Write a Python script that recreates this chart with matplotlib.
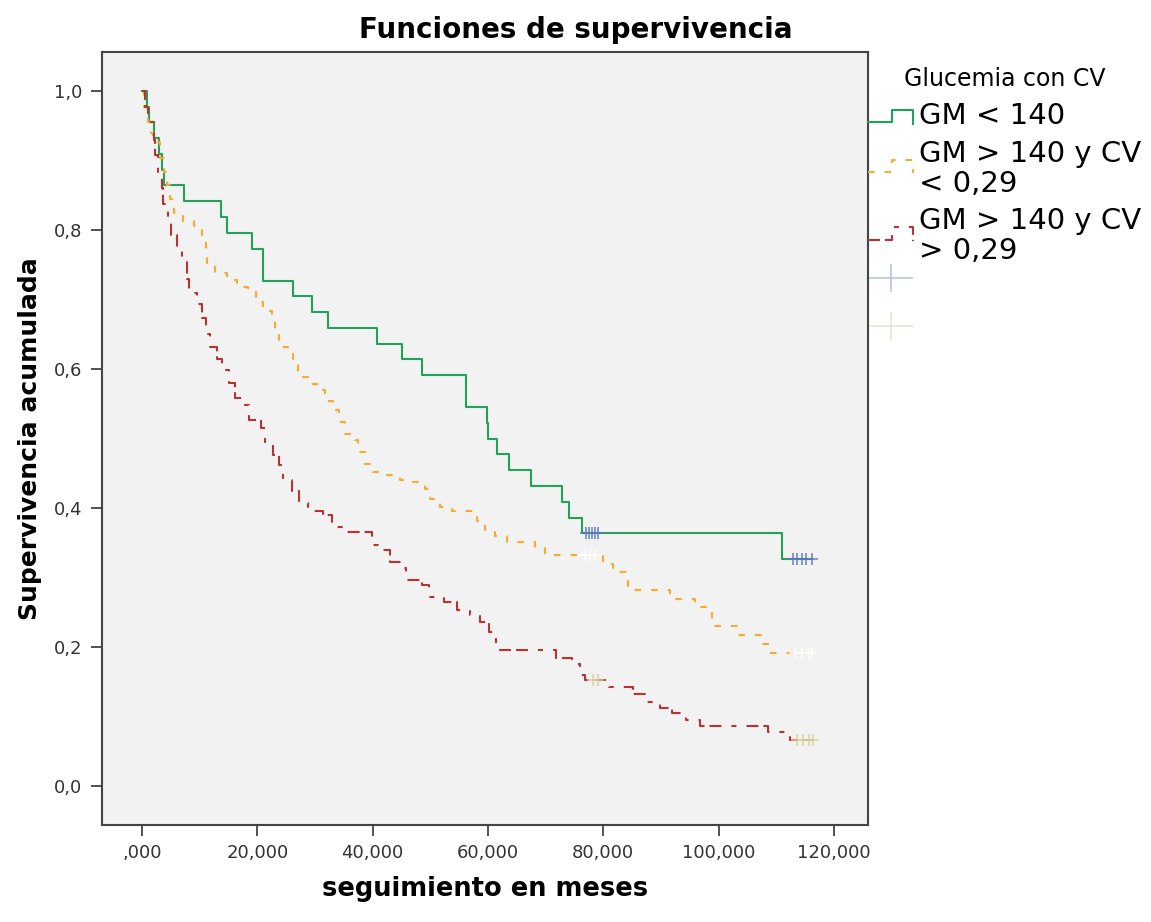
import numpy as np
import matplotlib
matplotlib.use("Agg")
import matplotlib.pyplot as plt
from matplotlib.lines import Line2D
from matplotlib.path import Path
from matplotlib.legend import Legend
from matplotlib.legend_handler import HandlerLine2D
from matplotlib.ticker import FuncFormatter, MultipleLocator

plt.rcParams["font.family"] = "DejaVu Sans"
plt.rcParams["lines.scale_dashes"] = False

# Kaplan-Meier steps: time in months -> survival after the event
GRP_LABELS = ["GM < 140", "GM > 140 y CV\n< 0,29", "GM > 140 y CV\n> 0,29"]

T_LOW = [0.919, 1.266, 2.081, 3.000, 3.468, 3.815, 7.283, 13.647, 14.687, 19.022, 21.034,
         26.132, 29.427, 32.305, 40.698, 45.032, 48.604, 56.131, 59.772, 59.946, 61.611,
         63.692, 67.453, 72.776, 74.096, 76.350, 110.920]
S_LOW = [0.977, 0.955, 0.932, 0.909, 0.886, 0.864, 0.841, 0.818, 0.795, 0.773, 0.727,
         0.705, 0.682, 0.659, 0.636, 0.614, 0.591, 0.545, 0.523, 0.500, 0.477,
         0.455, 0.432, 0.409, 0.386, 0.364, 0.327]
C_LOW = [77.0, 77.5, 78.0, 78.6, 79.1, 112.9, 113.6, 114.4, 115.1, 116.2]

T_CVLO = [0.347, 1.092, 1.509, 1.907, 3.121, 3.815, 4.283, 4.855, 5.549, 7.161, 9.017,
          10.352, 11.098, 11.323, 12.658, 14.687, 16.421, 18.432, 19.768, 21.033, 22.490,
          23.062, 23.808, 25.368, 26.236, 27.102, 28.836, 30.848, 31.715, 33.171, 34.212,
          35.200, 36.934, 37.507, 38.674, 40.107, 42.431, 44.737, 47.043, 49.071, 49.938,
          51.672, 53.701, 58.036, 59.475, 61.209, 63.238, 68.144, 69.878, 79.990, 81.620,
          83.874, 84.325, 91.547, 95.882, 97.910, 98.787, 103.122, 107.457, 108.775]
S_CVLO = [0.977, 0.956, 0.940, 0.926, 0.903, 0.884, 0.865, 0.845, 0.824, 0.813, 0.805,
          0.790, 0.771, 0.752, 0.738, 0.728, 0.718, 0.711, 0.697, 0.684, 0.673,
          0.654, 0.632, 0.623, 0.606, 0.588, 0.579, 0.570, 0.554, 0.541, 0.524,
          0.507, 0.498, 0.480, 0.464, 0.452, 0.447, 0.441, 0.438, 0.428, 0.413,
          0.402, 0.395, 0.381, 0.368, 0.360, 0.351, 0.342, 0.333, 0.320, 0.308,
          0.302, 0.282, 0.269, 0.257, 0.249, 0.230, 0.217, 0.204, 0.192]
C_CVLO = [76.8, 77.7, 78.6, 113.3, 114.4, 115.6, 116.2]

T_CVHI = [0.520, 1.092, 2.081, 2.254, 2.826, 3.416, 3.693, 4.560, 4.977, 6.017, 6.884,
          7.855, 8.202, 9.589, 10.352, 11.098, 11.791, 13.057, 13.820, 15.138, 16.126,
          17.860, 18.606, 20.583, 21.328, 22.664, 23.808, 24.397, 26.062, 27.276, 28.836,
          31.437, 32.894, 34.905, 39.830, 41.841, 43.003, 45.032, 45.778, 48.500, 49.766,
          52.367, 54.569, 56.875, 58.609, 60.170, 61.384, 71.736, 74.510, 75.949, 76.820,
          81.030, 85.192, 87.515, 89.821, 91.850, 94.330, 96.757, 108.600, 112.363]
S_CVHI = [0.977, 0.956, 0.929, 0.908, 0.884, 0.860, 0.838, 0.814, 0.793, 0.773, 0.754,
          0.730, 0.709, 0.694, 0.673, 0.651, 0.632, 0.615, 0.599, 0.580, 0.558,
          0.548, 0.527, 0.515, 0.495, 0.476, 0.462, 0.440, 0.425, 0.407, 0.395,
          0.390, 0.373, 0.365, 0.347, 0.340, 0.322, 0.313, 0.296, 0.289, 0.272,
          0.265, 0.254, 0.246, 0.236, 0.221, 0.196, 0.184, 0.175, 0.160, 0.153,
          0.142, 0.133, 0.121, 0.112, 0.105, 0.095, 0.087, 0.078, 0.066]
C_CVHI = [78.2, 79.0, 113.6, 114.6, 115.6, 116.3]

LINE_COLORS = ["#22a15a", "#f9a92b", "#b83232"]
CENS_COLORS = ["#5a78bd", "#ffffff", "#d8cf9c"]
DASHES = [None, (0, (4.7, 7.2)), (0, (8.6, 3.6, 8.6, 7.2, 3.6, 7.2))]


def km_line(times, surv, cens):
    t = np.concatenate([[0.0], times, [max(cens)]])
    s = np.concatenate([[1.0], surv, [surv[-1]]])
    idx = np.searchsorted(t, cens, side="right") - 1
    return t, s, np.asarray(cens), s[idx]


class StepHandler(HandlerLine2D):
    """Legend key drawn as a small up-step, shifted up by dy (fraction of box height)."""
    def __init__(self, dy=0.0, **kw):
        super().__init__(**kw)
        self.dy = dy

    def create_artists(self, legend, orig_handle, xdescent, ydescent, width, height, fontsize, trans):
        x0, y0 = -xdescent, -ydescent + self.dy * height
        xs = [x0, x0 + 0.53 * width, x0 + 0.53 * width, x0 + width, x0 + width]
        ys = [y0 + 0.18 * height, y0 + 0.18 * height, y0 + 0.66 * height, y0 + 0.66 * height, y0 + 0.14 * height]
        ln = Line2D(xs, ys)
        self.update_prop(ln, orig_handle, legend)
        ln.set_transform(trans)
        return [ln]


fig = plt.figure(figsize=(11.51, 9.22), dpi=100)
ax = fig.add_axes([0.0886, 0.1052, 0.6655, 0.8384])
ax.set_facecolor("#f2f2f2")

handles = []
for i, (tt, ss, cc) in enumerate([(T_LOW, S_LOW, C_LOW), (T_CVLO, S_CVLO, C_CVLO), (T_CVHI, S_CVHI, C_CVHI)]):
    t, s, ct, cs = km_line(tt, ss, cc)
    ls = "-" if DASHES[i] is None else DASHES[i]
    h, = ax.step(t, s, where="post", color=LINE_COLORS[i], lw=1.5, linestyle=ls, zorder=3)
    ax.plot(ct, cs, linestyle="none", marker="+", ms=9, mew=1.2, color=CENS_COLORS[i], alpha=0.85, zorder=4)
    handles.append(h)

leg = ax.legend(handles, GRP_LABELS, loc="upper left", bbox_to_anchor=(1.0, 0.980),
                frameon=False, fontsize=21, title="Glucemia con CV", title_fontsize=17,
                handlelength=1.55, handletextpad=0.2, borderpad=0, borderaxespad=0,
                labelspacing=0.33, handleheight=1.0,
                handler_map={handles[0]: StepHandler(0.0), handles[1]: StepHandler(0.22),
                             handles[2]: StepHandler(0.22)})
for txt in leg.get_texts():
    txt.set_linespacing(1.08)

# censored-case symbols, listed below the groups
cross = Path([(-1, 0), (1, 0), (0, -0.63), (0, 0.63)],
             [Path.MOVETO, Path.LINETO, Path.MOVETO, Path.LINETO])
cross_handles = [Line2D([], [], linestyle="none", marker=cross, ms=31, mew=1.2, color="#b6c3e2"),
                 Line2D([], [], linestyle="none", marker=cross, ms=31, mew=1.2, color="#e6e4cc")]
leg2 = Legend(ax, cross_handles, ["", ""], loc="upper left", bbox_to_anchor=(1.0, 0.722),
              frameon=False, fontsize=21, handlelength=1.55, handletextpad=0.2, borderpad=0,
              borderaxespad=0, labelspacing=0.62, handleheight=1.0)
ax.add_artist(leg2)

ax.set_xlim(-6.94, 125.9)
ax.set_ylim(-0.056, 1.056)
ax.xaxis.set_major_locator(MultipleLocator(20))
ax.yaxis.set_major_locator(MultipleLocator(0.2))
ax.xaxis.set_major_formatter(FuncFormatter(lambda v, p: ",000" if abs(v) < 1e-9 else f"{v:.3f}".replace(".", ",")))
ax.yaxis.set_major_formatter(FuncFormatter(lambda v, p: f"{v:.1f}".replace(".", ",")))
ax.tick_params(direction="out", length=8, width=1.2, labelsize=13, colors="#333333", pad=6)
for sp in ax.spines.values():
    sp.set_linewidth(1.5)
    sp.set_color("#444444")

fig.suptitle("Funciones de supervivencia", fontsize=20, fontweight="bold", x=0.5, y=0.967, va="center")
ax.set_xlabel("seguimiento en meses", fontsize=18.5, fontweight="bold", labelpad=10)
ax.set_ylabel("Supervivencia acumulada", fontsize=18, fontweight="bold", labelpad=9)

fig.savefig("out.png", dpi=100)
